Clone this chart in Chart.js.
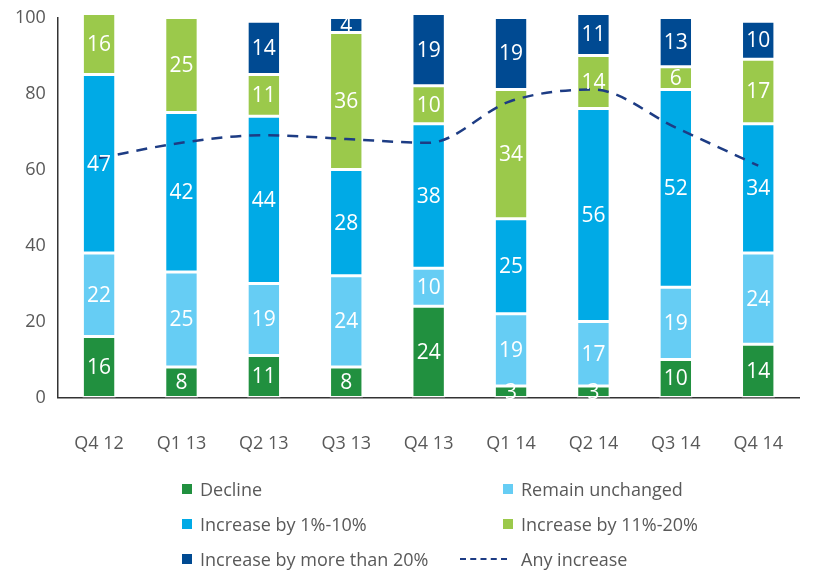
<!DOCTYPE html>
<html>
<head>
<meta charset="utf-8">
<script src="https://cdn.jsdelivr.net/npm/chart.js@4/dist/chart.umd.min.js"></script>
<style>
  html, body { margin: 0; padding: 0; background: #fff; }
  #wrap { position: relative; width: 819px; height: 575px; font-family: "Open Sans", sans-serif; color: #595959; }
  #chart { position: absolute; left: 0; top: 0; }
  .leg { position: absolute; font-size: 18px; line-height: 20px; white-space: nowrap; }
  .leg i { position: absolute; left: -18px; top: 5px; width: 10px; height: 10px; }
  .leg b { position: absolute; left: -61px; top: 9px; width: 47px; height: 0; border-top: 2.5px dashed #1d3c84; }
</style>
</head>
<body>
<div id="wrap">
  <canvas id="chart" width="819" height="575"></canvas>
</div>
<script>
// 数据
const quarters = ['Q4 12', 'Q1 13', 'Q2 13', 'Q3 13', 'Q4 13', 'Q1 14', 'Q2 14', 'Q3 14', 'Q4 14'];
const decline = [16, 8, 11, 8, 24, 3, 3, 10, 14];
const unchanged = [22, 25, 19, 24, 10, 19, 17, 19, 24];
const inc1to10 = [47, 42, 44, 28, 38, 25, 56, 52, 34];
const inc11to20 = [16, 25, 11, 36, 10, 34, 14, 6, 17];
const incOver20 = [0, 0, 14, 4, 19, 19, 11, 13, 10];
const anyIncrease = [63, 67, 69, 68, 67, 78, 81, 71, 61];
const yTicks = [0, 20, 40, 60, 80, 100];

const seriesNames = ['Decline', 'Remain unchanged', 'Increase by 1%-10%', 'Increase by 11%-20%', 'Increase by more than 20%'];
const seriesColors = ['#21903f', '#66cdf4', '#00aae6', '#9bc94b', '#004a92'];
const lineColor = '#1d3c84';

// 柱内数值标签
const barLabels = {
  id: 'barLabels',
  afterDatasetsDraw(chart) {
    const ctx = chart.ctx;
    ctx.save();
    ctx.fillStyle = '#fff';
    ctx.font = '21px "Open Sans"';
    ctx.textAlign = 'center';
    ctx.textBaseline = 'middle';
    chart.data.datasets.forEach((ds, i) => {
      if (ds.type === 'line') return;
      chart.getDatasetMeta(i).data.forEach((el, j) => {
        const v = ds.data[j];
        if (!v) return;
        ctx.fillText(String(v), el.x, (el.y + el.base) / 2 + 1);
      });
    });
    ctx.restore();
  }
};

const barSets = [decline, unchanged, inc1to10, inc11to20, incOver20].map((d, i) => ({
  type: 'bar',
  label: seriesNames[i],
  data: d,
  backgroundColor: seriesColors[i],
  borderColor: '#fff',
  borderWidth: 1.5,
  borderSkipped: false,
  barPercentage: 0.405,
  categoryPercentage: 1,
  clip: false,
  order: 1
}));

new Chart(document.getElementById('chart'), {
  data: {
    labels: quarters,
    datasets: [
      ...barSets,
      {
        type: 'line',
        label: 'Any increase',
        data: anyIncrease,
        borderColor: lineColor,
        borderWidth: 2.5,
        borderDash: [11, 8],
        pointRadius: 0,
        cubicInterpolationMode: 'monotone',
        fill: false,
        clip: false,
        order: 0
      }
    ]
  },
  options: {
    responsive: false,
    animation: false,
    layout: { padding: { top: 6, right: 0, bottom: 84, left: 3 } },
    plugins: { legend: { display: false }, tooltip: { enabled: false } },
    scales: {
      x: {
        stacked: true,
        grid: { display: false, drawTicks: false },
        border: { display: true, color: '#333', width: 1.5 },
        ticks: { color: '#595959', font: { family: 'Open Sans', size: 18 }, padding: 36 }
      },
      y: {
        stacked: true,
        min: 0,
        max: 100,
        afterBuildTicks(axis) { axis.ticks = yTicks.map(v => ({ value: v })); },
        grid: { display: false, drawTicks: false },
        border: { display: true, color: '#333', width: 1.5 },
        ticks: { color: '#595959', font: { family: 'Open Sans', size: 18, lineHeight: 0.6 }, padding: 12 }
      }
    }
  },
  plugins: [barLabels]
});

// 图例（两列）
const wrap = document.getElementById('wrap');
const legendPos = [[200, 479], [521, 479], [200, 514], [521, 514], [200, 549]];
seriesNames.forEach((name, i) => {
  const d = document.createElement('div');
  d.className = 'leg';
  d.style.left = legendPos[i][0] + 'px';
  d.style.top = legendPos[i][1] + 'px';
  d.innerHTML = '<i style="background:' + seriesColors[i] + '"></i>' + name;
  wrap.appendChild(d);
});
const lineLeg = document.createElement('div');
lineLeg.className = 'leg';
lineLeg.style.left = '521px';
lineLeg.style.top = '549px';
lineLeg.innerHTML = '<b></b>Any increase';
wrap.appendChild(lineLeg);
</script>
</body>
</html>
